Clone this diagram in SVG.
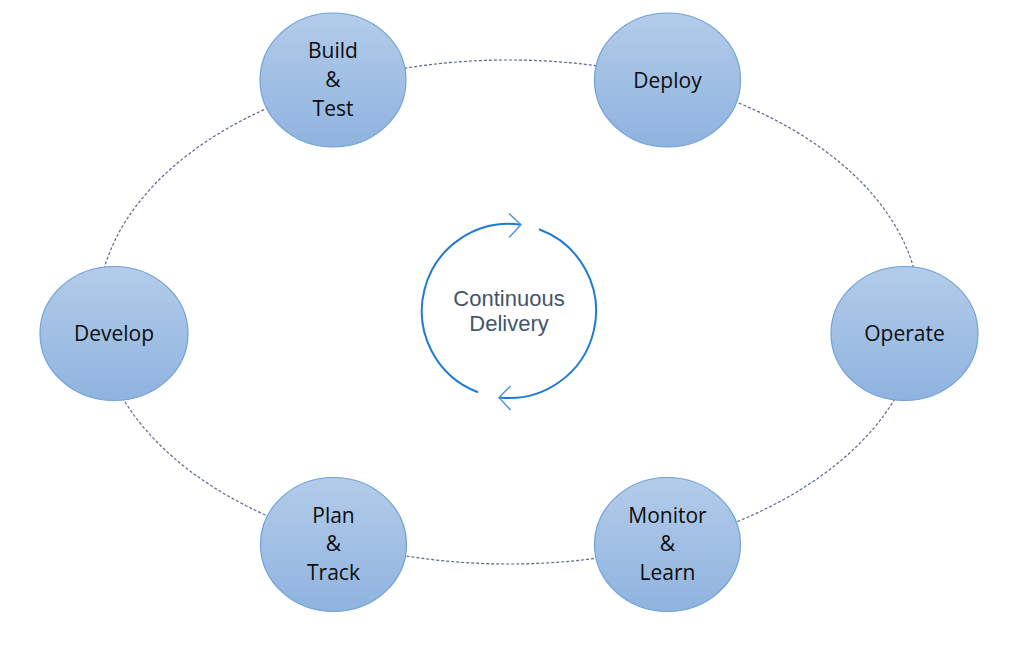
<svg xmlns="http://www.w3.org/2000/svg" width="1024" height="646" viewBox="0 0 1024 646">
  <defs>
    <linearGradient id="nodeFill" x1="0" y1="0" x2="0" y2="1">
      <stop offset="0" stop-color="#b3cce9"/>
      <stop offset="1" stop-color="#8fb3df"/>
    </linearGradient>
    <style>
      .node { fill: url(#nodeFill); stroke: #6fa1d9; stroke-width: 1.2; }
      .label { font-family: "Open Sans", "Liberation Sans", sans-serif; font-size: 21px; fill: #0d0d0d; text-anchor: middle; }
      .conn { fill: none; stroke: #56698f; stroke-width: 1.2; stroke-dasharray: 3 2; }
      .cycle { fill: none; stroke: #1f7ad3; stroke-width: 2; }
      .chev { fill: none; stroke: #4a93dc; stroke-width: 1.4; stroke-linejoin: miter; }
      .center { font-family: "Liberation Sans", Arial, sans-serif; font-size: 22px; fill: #44546a; text-anchor: middle; }
    </style>
  </defs>
  <rect width="1024" height="646" fill="#ffffff"/>

  <g id="connectors">
    <path class="conn" d="M 336 83.4 A 411 252 0 0 1 667.6 79.5"/>
    <path class="conn" d="M 667.6 79.5 A 411 252 0 0 1 918.5 333.5"/>
    <path class="conn" d="M 918.5 333.5 A 411 252 0 0 1 667.6 544.5"/>
    <path class="conn" d="M 667.6 544.5 A 411 252 0 0 1 336 540.6"/>
    <path class="conn" d="M 336 540.6 A 411 252 0 0 1 99.5 333.5"/>
    <path class="conn" d="M 99.5 333.5 A 411 252 0 0 1 336 83.4"/>
  </g>

  <g id="continuous-delivery">
    <path class="cycle" d="M 521 224.8 A 87 87 0 0 0 478 392.3"/>
    <path class="cycle" d="M 539 229.3 A 87 87 0 0 1 499 397.4"/>
    <polyline class="chev" points="509,213.5 521,224.8 509,237.5"/>
    <polyline class="chev" points="510.5,386 499,397.4 510.5,410"/>
    <text class="center" x="509" y="305.5">Continuous</text>
    <text class="center" x="509" y="330.5">Delivery</text>
  </g>

  <g id="build-test">
    <ellipse class="node" cx="333" cy="80" rx="73" ry="67"/>
    <text class="label" x="333" y="58">Build</text>
    <text class="label" x="333" y="87">&amp;</text>
    <text class="label" x="333" y="116">Test</text>
  </g>

  <g id="deploy">
    <ellipse class="node" cx="667.5" cy="80" rx="73" ry="67"/>
    <text class="label" x="667.5" y="87.5">Deploy</text>
  </g>

  <g id="develop">
    <ellipse class="node" cx="114" cy="333.5" rx="74" ry="67"/>
    <text class="label" x="114" y="341">Develop</text>
  </g>

  <g id="operate">
    <ellipse class="node" cx="904.5" cy="333.5" rx="73.5" ry="67"/>
    <text class="label" x="904.5" y="341">Operate</text>
  </g>

  <g id="plan-track">
    <ellipse class="node" cx="333.5" cy="544.5" rx="73" ry="67"/>
    <text class="label" x="333.5" y="522.5">Plan</text>
    <text class="label" x="333.5" y="551">&amp;</text>
    <text class="label" x="333.5" y="580">Track</text>
  </g>

  <g id="monitor-learn">
    <ellipse class="node" cx="667.5" cy="544.5" rx="73" ry="67"/>
    <text class="label" x="667.5" y="522.5">Monitor</text>
    <text class="label" x="667.5" y="551">&amp;</text>
    <text class="label" x="667.5" y="580">Learn</text>
  </g>
</svg>
